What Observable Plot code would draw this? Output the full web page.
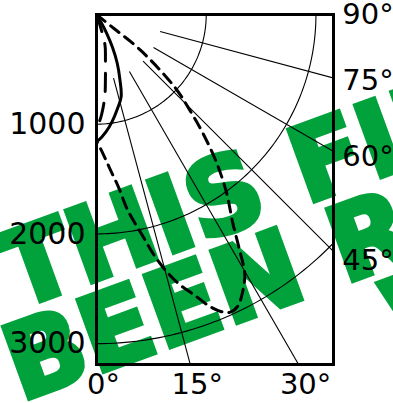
<!DOCTYPE html>
<html>
<head>
<meta charset="utf-8">
<script src="https://cdn.jsdelivr.net/npm/d3@7"></script>
<script src="https://cdn.jsdelivr.net/npm/@observablehq/plot@0.6"></script>
<style>
  html, body { margin: 0; padding: 0; background: white; }
  #chart { width: 393px; height: 403px; overflow: hidden; }
</style>
</head>
<body>
<div id="chart"></div>
<script>
// ---- data (polar: angle in degrees from the downward vertical, radius in units) ----
const rings = [1000, 2000, 3000];
const ringLabels = ["1000", "2000", "3000"];
const spokeAngles = [15, 30, 45, 60, 75];
const spokeInner = 600;
const rightTicks = [90, 75, 60, 45];
const bottomTicks = [0, 15, 30];

const solidTheta = [31, 30, 28.5, 26, 23, 19.7, 16.7, 12.1, 8.2, 4.6, 1.1, 0];
const solidR     = [0, 90, 190, 330, 485, 635, 782, 890, 989, 1074, 1143, 1155];

const smallTheta = [22, 18, 15.5, 11.1, 8.0, 6.0, 4.0, 1.9, 0];
const smallR     = [0, 102, 290, 423, 585, 737, 854, 962, 1030];

const bigTheta = [51, 51.3, 51, 47, 44.3, 41.9, 39.0, 36.1, 33.2, 31.3, 29.7, 27.7, 25.8, 24.1,
                  22.7, 21.2, 19.3, 17.1, 15.0, 13.6, 11.5, 9.0, 7.4, 4.8, 2.3, 0];
const bigR     = [0, 204, 516, 985, 1216, 1450, 1740, 2012, 2267, 2508, 2727, 2862, 2955, 2974,
                  2934, 2854, 2713, 2575, 2406, 2270, 2033, 1800, 1600, 1400, 1250, 1150];

const watermarkLines = ["THIS FILE HAS", "BEEN REMOVED", "WITHDRAWN"];

// ---- helpers ----
const rad = d => d * Math.PI / 180;
const toXY = (thetas, rs) => thetas.map((t, i) => ({x: rs[i] * Math.sin(rad(t)), y: rs[i] * Math.cos(rad(t))}));

const xMax = 2160, yMax = 3190;
const rightLabelX = 2240;

const ringPts = rings.flatMap(r => d3.range(0, 90.5, 1).map(a => ({r, x: r * Math.sin(rad(a)), y: r * Math.cos(rad(a))})));
const spokes = spokeAngles.map(a => ({
  x1: spokeInner * Math.sin(rad(a)), y1: spokeInner * Math.cos(rad(a)),
  x2: 8000 * Math.sin(rad(a)), y2: 8000 * Math.cos(rad(a))
}));
const rightLab = rightTicks.map(a => ({x: rightLabelX, y: rightLabelX * Math.cos(rad(a)) / Math.sin(rad(a)), t: a + "°"}));
const bottomLab = bottomTicks.map(a => ({x: yMax * Math.tan(rad(a)), y: yMax, t: a + "°"}));
const leftLab = rings.map((r, i) => ({x: 0, y: r, t: ringLabels[i]}));

const green = "#01a13b";
const wm = {fill: green, stroke: green, strokeWidth: 5, strokeLinejoin: "miter",
            fontFamily: "DejaVu Sans, sans-serif", fontWeight: "bold",
            fontSize: 104, rotate: -20, textAnchor: "start", lineAnchor: "bottom", frameAnchor: "top-left"};

const chart = Plot.plot({
  width: 393, height: 403,
  marginLeft: 96, marginRight: 60, marginTop: 14, marginBottom: 39,
  x: {domain: [0, xMax], axis: null},
  y: {domain: [0, yMax], reverse: true, axis: null},
  style: {background: "white", fontFamily: "DejaVu Sans, sans-serif", overflow: "visible"},
  marks: [
    Plot.text([watermarkLines[0]], {...wm, text: d => d, dx: -80, dy: 295}),
    Plot.text([watermarkLines[1]], {...wm, text: d => d, dx: -76, dy: 387}),
    Plot.text([watermarkLines[2]], {...wm, text: d => d, dx: 304, dy: 341}),
    Plot.line(ringPts, {x: "x", y: "y", z: "r", stroke: "black", strokeWidth: 1.1, clip: true}),
    Plot.link(spokes, {x1: "x1", y1: "y1", x2: "x2", y2: "y2", stroke: "black", strokeWidth: 1.1, clip: true}),
    Plot.line(toXY(smallTheta, smallR), {x: "x", y: "y", stroke: "black", strokeWidth: 3, strokeDasharray: "18,12", curve: "catmull-rom", clip: true}),
    Plot.line(toXY(bigTheta, bigR), {x: "x", y: "y", stroke: "black", strokeWidth: 3, strokeDasharray: "11,7", curve: "catmull-rom", clip: true}),
    Plot.line(toXY(solidTheta, solidR), {x: "x", y: "y", stroke: "black", strokeWidth: 3, curve: "catmull-rom", clip: true}),
    Plot.frame({stroke: "black", strokeWidth: 3}),
    Plot.text(leftLab, {x: "x", y: "y", text: "t", textAnchor: "end", dx: -11, fontSize: 30, fill: "black"}),
    Plot.text(rightLab, {x: "x", y: "y", text: "t", textAnchor: "start", fontSize: 29, fill: "black"}),
    Plot.text(bottomLab, {x: "x", y: "y", text: "t", textAnchor: "middle", dx: 7, dy: 20, fontSize: 29, fill: "black"})
  ]
});
document.getElementById("chart").appendChild(chart);
</script>
</body>
</html>
